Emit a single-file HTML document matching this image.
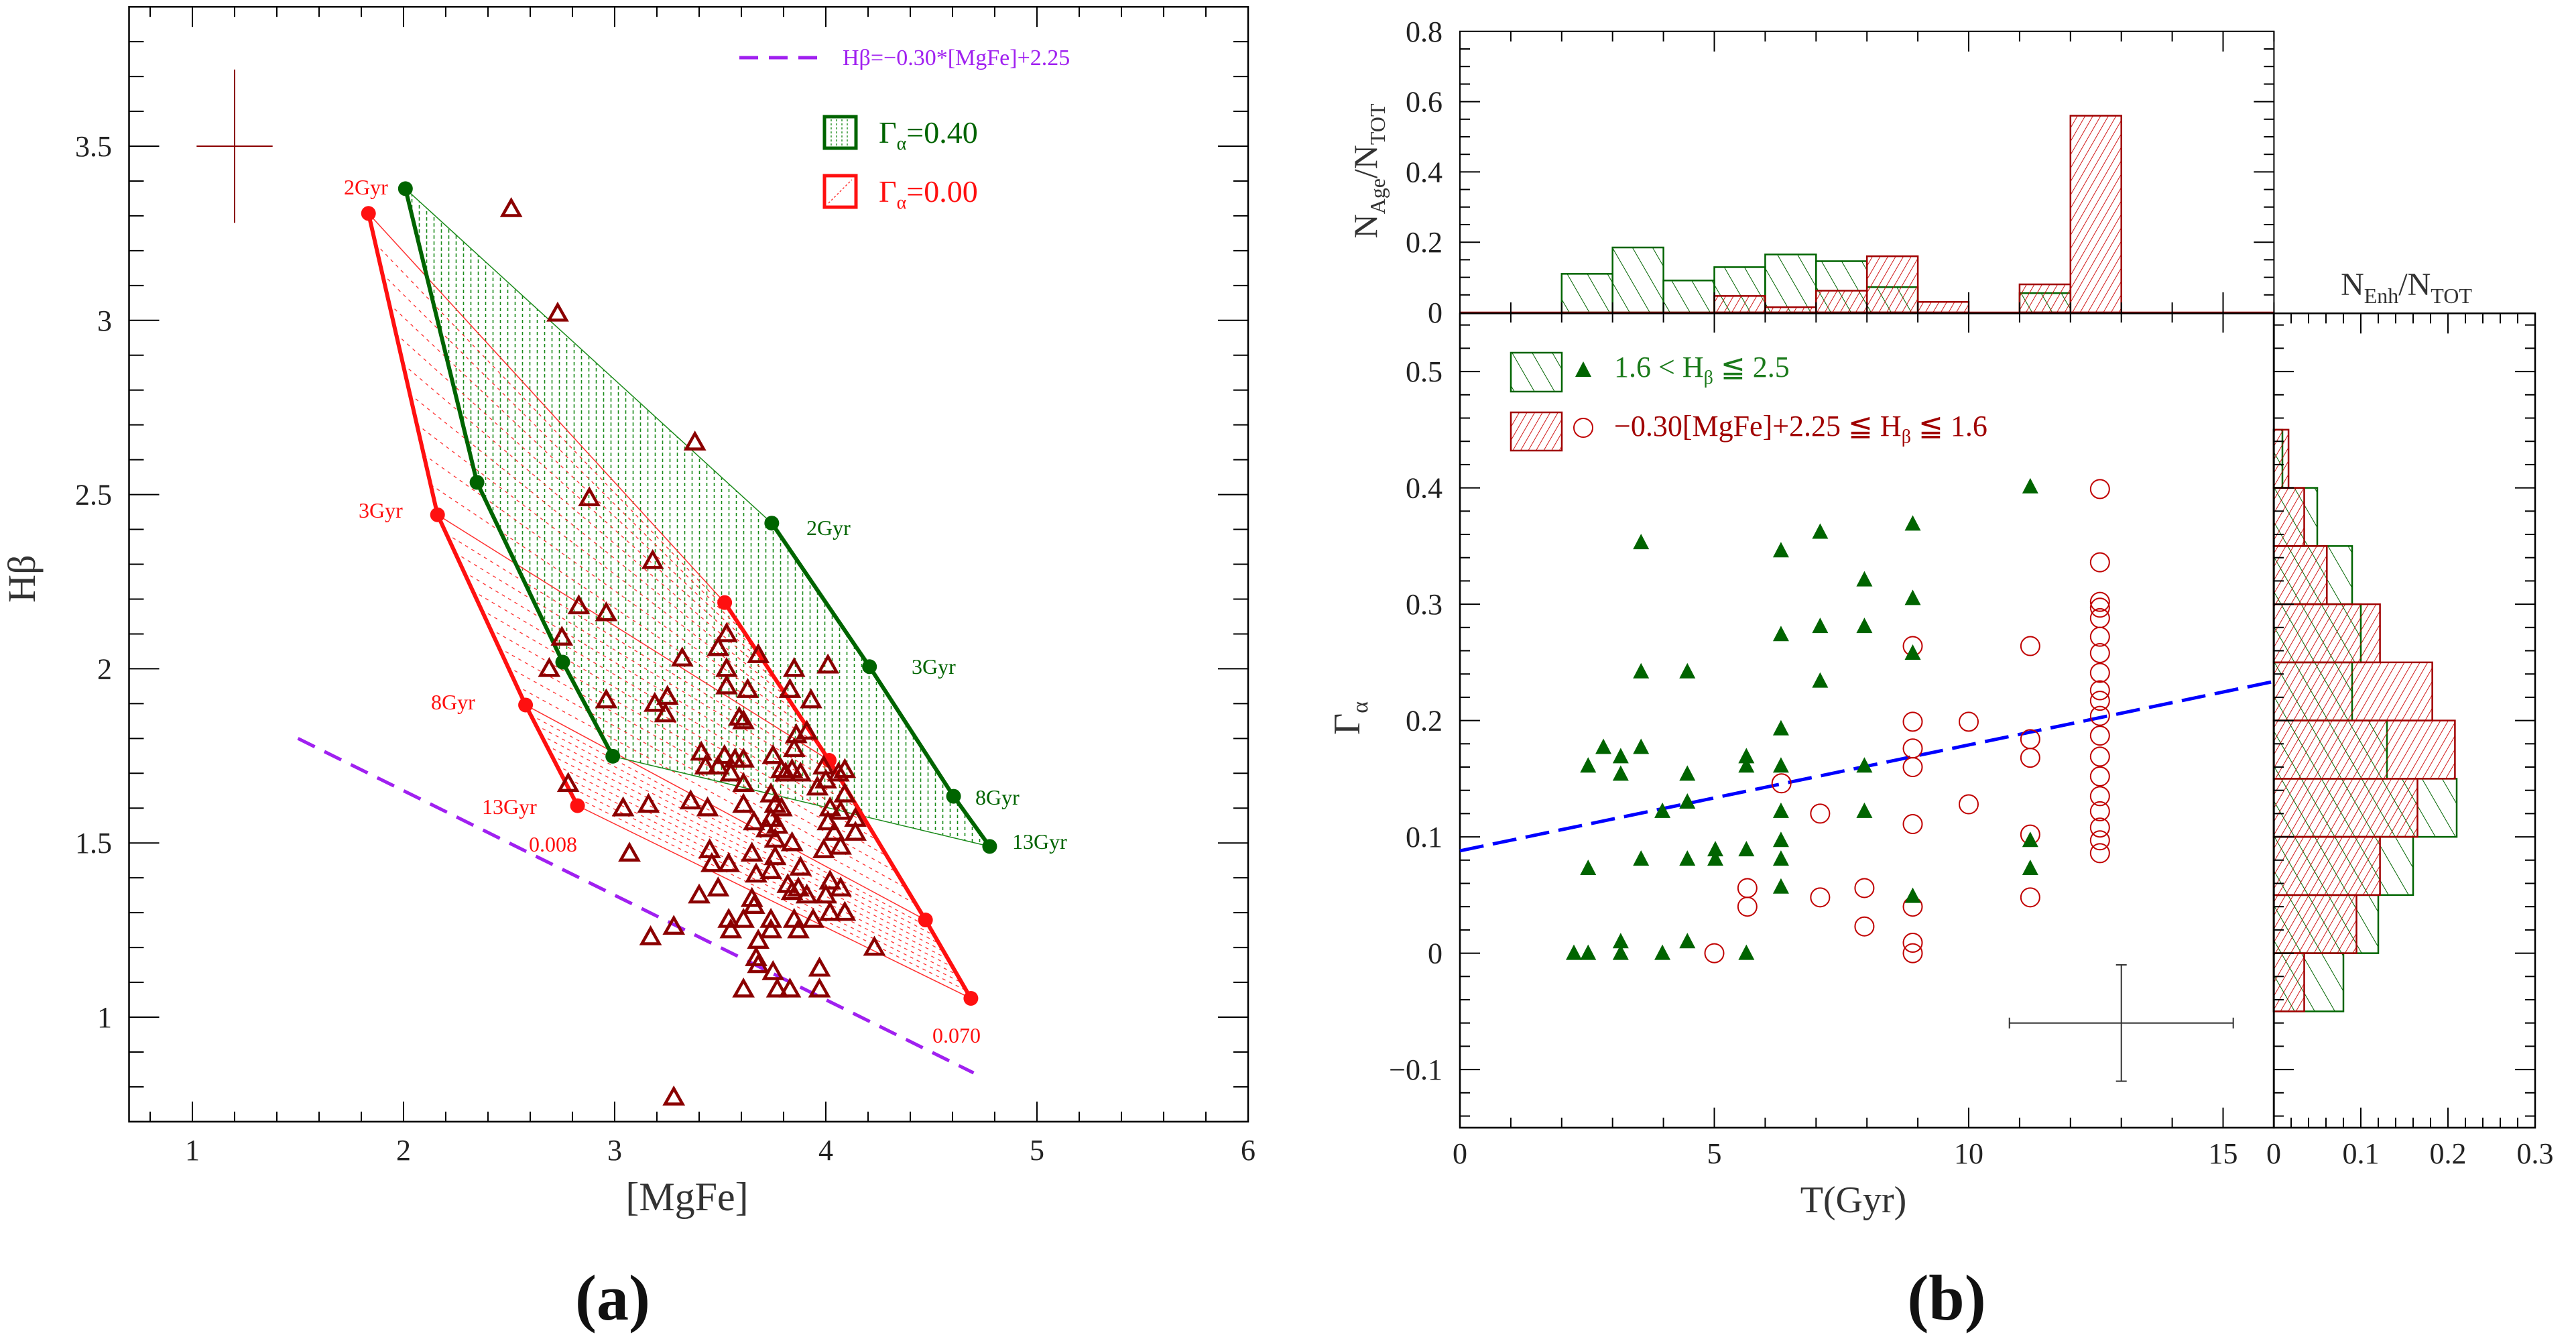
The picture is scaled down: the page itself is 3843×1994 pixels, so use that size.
<!DOCTYPE html>
<html><head><meta charset="utf-8">
<style>
html,body{margin:0;padding:0;background:#fff;}
svg{display:block;font-family:"Liberation Serif",serif;}
</style></head>
<body>
<svg id="fig" xmlns="http://www.w3.org/2000/svg" width="3843" height="1994" viewBox="0 0 3843 1994">
<defs>
<pattern id="hatchG" patternUnits="userSpaceOnUse" width="26" height="26" patternTransform="rotate(-30)"><line x1="0" y1="0" x2="0" y2="26" stroke="#006400" stroke-width="2"/></pattern>
<pattern id="hatchR" patternUnits="userSpaceOnUse" width="10" height="10" patternTransform="rotate(30)"><line x1="0" y1="0" x2="0" y2="10" stroke="#cc0000" stroke-width="1.8"/></pattern>
</defs>
<g id="root"></g>
</svg>
<script>
// ---------- data: panel (a) ----------
const trackAgesLabels = ["2Gyr","3Gyr","8Gyr","13Gyr"];
const g40LowZ_x = [2.009, 2.348, 2.754, 2.991];
const g40LowZ_y = [3.378, 2.535, 2.019, 1.749];
const g40HighZ_x = [3.744, 4.207, 4.605, 4.776];
const g40HighZ_y = [2.418, 2.006, 1.634, 1.490];
const g00LowZ_x = [1.834, 2.161, 2.578, 2.824];
const g00LowZ_y = [3.307, 2.442, 1.896, 1.607];
const g00HighZ_x = [3.521, 4.016, 4.472, 4.687];
const g00HighZ_y = [2.190, 1.737, 1.279, 1.054];
const galMgFe = [2.51,2.73,3.38,2.88,3.18,2.83,2.96,2.75,2.69,3.32,3.53,3.49,3.53,3.68,4.01,3.85,2.96,3.19,3.25,3.24,3.53,3.63,3.59,3.61,3.83,3.93,3.86,3.91,3.85,3.41,3.52,3.57,3.61,3.43,3.49,3.55,3.75,3.79,3.81,3.84,3.88,3.99,3.96,4.00,4.06,4.09,4.09,3.61,3.74,2.78,3.04,3.16,3.36,3.44,3.61,3.76,3.79,3.66,3.74,3.77,3.72,4.02,4.01,4.07,4.14,3.76,3.84,4.04,4.14,3.99,4.07,3.07,3.45,3.46,3.54,3.65,3.76,3.88,3.74,3.67,3.82,3.87,4.02,4.07,3.40,3.49,3.84,3.91,4.00,3.65,3.66,3.54,3.55,3.61,3.74,3.85,3.87,3.94,4.02,4.09,3.17,3.28,3.68,3.74,4.23,3.67,3.68,3.75,3.97,3.61,3.77,3.83,3.97,3.28];
const galHb = [3.32,3.02,2.65,2.49,2.31,2.18,2.16,2.09,2.00,2.03,2.10,2.06,2.00,2.04,2.01,2.00,1.91,1.90,1.92,1.87,1.95,1.94,1.86,1.85,1.94,1.91,1.81,1.82,1.77,1.76,1.75,1.74,1.74,1.72,1.72,1.70,1.75,1.71,1.70,1.71,1.70,1.72,1.66,1.68,1.70,1.71,1.64,1.67,1.64,1.67,1.60,1.61,1.62,1.60,1.61,1.61,1.60,1.56,1.57,1.55,1.54,1.60,1.56,1.59,1.57,1.51,1.50,1.53,1.53,1.48,1.49,1.47,1.48,1.44,1.44,1.47,1.46,1.43,1.42,1.41,1.38,1.37,1.39,1.37,1.35,1.37,1.36,1.35,1.35,1.34,1.32,1.28,1.25,1.28,1.28,1.28,1.25,1.28,1.30,1.30,1.23,1.26,1.22,1.25,1.20,1.17,1.15,1.13,1.14,1.08,1.08,1.08,1.08,0.77];
const limitSlope = -0.30, limitIntercept = 2.25, limitRange = [1.5, 4.7];
const xTicksA = [1,2,3,4,5,6];
const yTicksA = [1,1.5,2,2.5,3,3.5];

// ---------- data: panel (b) ----------
const triAge = [2.24,2.52,2.52,2.52,2.82,3.16,3.16,3.16,3.16,3.56,3.56,3.56,3.56,3.98,3.98,4.47,4.47,4.47,4.47,4.47,5.02,5.02,5.63,5.63,5.63,5.63,6.31,6.31,6.31,6.31,6.31,6.31,6.31,6.31,7.08,7.08,7.08,7.95,7.95,7.95,7.95,8.9,8.9,8.9,8.9,11.21,11.21,11.21];
const triGamma = [0,0,0.161,0.073,0.177,0.169,0.154,0.010,0,0.353,0.242,0.177,0.081,0.122,0,0.242,0.154,0.130,0.081,0.010,0.089,0.081,0.169,0.161,0.089,0,0.346,0.274,0.193,0.161,0.122,0.097,0.081,0.057,0.362,0.281,0.234,0.321,0.281,0.161,0.122,0.369,0.305,0.258,0.049,0.401,0.097,0.073];
const circAge = [5.0,5.65,5.65,6.32,7.08,7.08,7.95,7.95,8.9,8.9,8.9,8.9,8.9,8.9,8.9,8.9,10,10,11.21,11.21,11.21,11.21,11.21,12.58,12.58,12.58,12.58,12.58,12.58,12.58,12.58,12.58,12.58,12.58,12.58,12.58,12.58,12.58,12.58,12.58,12.58,12.58];
const circGamma = [0,0.056,0.040,0.146,0.120,0.048,0.056,0.023,0.264,0.199,0.176,0.160,0.111,0.040,0.009,0,0.199,0.128,0.264,0.184,0.168,0.102,0.048,0.399,0.336,0.302,0.297,0.288,0.272,0.258,0.241,0.226,0.217,0.204,0.187,0.169,0.152,0.135,0.122,0.108,0.097,0.086,0.072];
const fitIntercept = 0.088, fitSlope = 0.0091;
const ageBinStart = [2,3,4,5,6,7,8,9,10,11,12];
const ageHistGreen = [0.110,0.185,0.091,0.129,0.165,0.146,0.072,0,0,0.055,0];
const ageHistRed = [0,0,0,0.047,0.015,0.062,0.160,0.030,0,0.080,0.56];
const gamBinStart = [0.40,0.35,0.30,0.25,0.20,0.15,0.10,0.05,0.00,-0.05];
const gamHistGreen = [0.010,0.050,0.090,0.100,0.090,0.130,0.210,0.160,0.120,0.080];
const gamHistRed = [0.017,0.035,0.061,0.122,0.182,0.208,0.165,0.122,0.095,0.035];
const xTicksB = [0,5,10,15];
const yTicksB = [-0.1,0,0.1,0.2,0.3,0.4,0.5];
const yTicksTop = [0,0.2,0.4,0.6,0.8];
const xTicksSide = [0,0.1,0.2,0.3];

// ---------- scales ----------
const LX = v => 287 + (v-1)*315;
const LY = v => 1517 - (v-1)*519.6;
const RX = t => 2178 + t*75.9;
const RY = g => 1421.6 - g*1735;
const TY = n => 466 - n*524;
const SX = n => 3392 + n*1300;

const NS = "http://www.w3.org/2000/svg";
const root = document.getElementById('root');
function mk(tag, attrs, parent){
  const e = document.createElementNS(NS, tag);
  for (const k in attrs) e.setAttribute(k, attrs[k]);
  (parent||root).appendChild(e);
  return e;
}
function txt(s, x, y, size, fill, anchor, parent){
  const e = mk('text', {x:x, y:y, 'font-size':size, fill:fill||'#000', 'text-anchor':anchor||'start'}, parent);
  e.textContent = s;
  return e;
}
function fmt(v){ return (Math.round(v*10)/10).toString().replace('-', '\u2212'); }

// ticks helper: axis ticks on a frame
function tickLine(x1,y1,x2,y2,parent){
  const t = mk('line',{x1:x1,y1:y1,x2:x2,y2:y2,stroke:'#000','stroke-width':2}, parent);
  
  
}

// ================= PANEL A =================
const gA = mk('g',{});


const frameA = mk('rect',{x:LX(0.7),y:LY(3.9),width:LX(6)-LX(0.7),height:LY(0.7)-LY(3.9),fill:'none',stroke:'#000','stroke-width':2.5}, gA);


for (let i=4;i<=30;i++){ const v=i/5; const major = Math.abs(v-Math.round(v))<1e-6; const L = major?30:15;
  tickLine(LX(v),LY(0.7),LX(v),LY(0.7)-L,gA); tickLine(LX(v),LY(3.9),LX(v),LY(3.9)+L,gA); }
for (let i=7;i<=39;i++){ const v=i/10; const major = Math.abs(v*2-Math.round(v*2))<1e-6; const L = major?45:22;
  tickLine(LX(0.7),LY(v),LX(0.7)+L,LY(v),gA); tickLine(LX(6),LY(v),LX(6)-L,LY(v),gA); }
xTicksA.forEach(v=>{ const t=txt(String(v),LX(v),1730,44,'#222','middle',gA);
    });
yTicksA.forEach(v=>{ const t=txt(String(v),167,LY(v)+15,44,'#222','end',gA);
    });
const xtA = txt('[MgFe]',1025,1805,60,'#333','middle',gA);


const ytA = mk('text',{x:0,y:0,'font-size':58,fill:'#333','text-anchor':'middle',transform:'translate(52,863) rotate(-90)'},gA);
ytA.textContent = 'H\u03B2';



// model grids
function trackPt(xs, ys, s){ // s in [0,3]
  const i = Math.min(2, Math.floor(s)); const f = s - i;
  return [xs[i] + (xs[i+1]-xs[i])*f, ys[i] + (ys[i+1]-ys[i])*f];
}
// green grid polygon
const polyG = g40LowZ_x.map((x,i)=>LX(x)+','+LY(g40LowZ_y[i])).concat(g40HighZ_x.map((x,i)=>LX(x)+','+LY(g40HighZ_y[i])).reverse()).join(' ');
const cp = mk('clipPath',{id:'clipG'}, gA);
mk('polygon',{points:polyG}, cp);
const gridG = mk('g',{'clip-path':'url(#clipG)'}, gA);


for (let x = LX(1.9); x < LX(4.9); x += 11){
  const l = mk('line',{x1:x,y1:0,x2:x,y2:1700,stroke:'#1a8a1a','stroke-width':1.6,'stroke-dasharray':'5,4'}, gridG);
  
  
}
// red grid iso-lines
const gridR = mk('g',{}, gA);


for (let k=0;k<=30;k++){
  const s = k*3/30;
  const a = trackPt(g00LowZ_x,g00LowZ_y,s), b = trackPt(g00HighZ_x,g00HighZ_y,s);
  const l = mk('line',{x1:LX(a[0]),y1:LY(a[1]),x2:LX(b[0]),y2:LY(b[1]),stroke:'#ff3030','stroke-width':(k%10===0)?1.5:1.3,'stroke-dasharray':(k%10===0)?'none':'5,6'}, gridR);
  
  
}
// green edges
[[0,0],[3,3]].forEach(p=>{
  const l = mk('line',{x1:LX(g40LowZ_x[p[0]]),y1:LY(g40LowZ_y[p[0]]),x2:LX(g40HighZ_x[p[1]]),y2:LY(g40HighZ_y[p[1]]),stroke:'#1a8a1a','stroke-width':1.5}, gA);
  
  
});
function track(xs, ys, col, name){
  const pl = mk('polyline',{points:xs.map((x,i)=>LX(x)+','+LY(ys[i])).join(' '),fill:'none',stroke:col,'stroke-width':6}, gA);
  
  
  xs.forEach((x,i)=>{ const c = mk('circle',{cx:LX(x),cy:LY(ys[i]),r:11,fill:col}, gA);
    
     });
}
track(g00LowZ_x,g00LowZ_y,'#ff1010','track-gamma-000-z0008');
track(g00HighZ_x,g00HighZ_y,'#ff1010','track-gamma-000-z0070');
track(g40LowZ_x,g40LowZ_y,'#006400','track-gamma-040-z0008');
track(g40HighZ_x,g40HighZ_y,'#006400','track-gamma-040-z0070');
// track labels
const redLab = [[513,290],[535,772],[643,1058],[719,1214]];
redLab.forEach((p,i)=>{ const t=txt(trackAgesLabels[i],p[0],p[1],32,'#ff1010','start',gA);
    });
const grnLab = [[1203,798],[1360,1005],[1455,1200],[1510,1266]];
grnLab.forEach((p,i)=>{ const t=txt(trackAgesLabels[i],p[0],p[1],32,'#006400','start',gA);
    });
const z1 = txt('0.008',789,1270,32,'#ff1010','start',gA);


const z2 = txt('0.070',1391,1555,32,'#ff1010','start',gA);


// limit line
const lim = mk('line',{x1:LX(limitRange[0]),y1:LY(limitSlope*limitRange[0]+limitIntercept),x2:LX(limitRange[1]),y2:LY(limitSlope*limitRange[1]+limitIntercept),stroke:'#a020f0','stroke-width':5,'stroke-dasharray':'28,16'}, gA);


// galaxies
galMgFe.forEach((x,i)=>{
  const cx=LX(x), cy=LY(galHb[i]);
  const t = mk('polygon',{points:`${cx-13},${cy+10} ${cx+13},${cy+10} ${cx},${cy-13}`,fill:'none',stroke:'#8b0000','stroke-width':4.5,'stroke-linejoin':'miter'}, gA);
  
  
});
// error bar
const ebA = mk('path',{d:`M${LX(1.2)},${LY(3.28)}V${LY(3.72)}M${LX(1.02)},${LY(3.5)}H${LX(1.38)}`,stroke:'#8b0000','stroke-width':2,fill:'none'}, gA);


// legend A
const lgA = mk('g',{}, gA);


const ld = mk('line',{x1:1103,y1:86,x2:1225,y2:86,stroke:'#a020f0','stroke-width':5,'stroke-dasharray':'28,16'}, lgA);


const lt = txt('H\u03B2=\u22120.30*[MgFe]+2.25',1257,97,34,'#a020f0','start',lgA);


const lb1 = mk('rect',{x:1230,y:174,width:47,height:47,fill:'none',stroke:'#006400','stroke-width':5}, lgA);


for (let x=1240;x<1272;x+=8){ const l=mk('line',{x1:x,y1:178,x2:x,y2:218,stroke:'#1a8a1a','stroke-width':1.4,'stroke-dasharray':'3,3'},lgA);
    }
const lb1t = mk('text',{x:1311,y:213,'font-size':46,fill:'#006400'}, lgA);
lb1t.innerHTML = '\u0393<tspan font-size="28" dy="10">\u03B1</tspan><tspan dy="-10">=0.40</tspan>';


const lb2 = mk('rect',{x:1230,y:262,width:47,height:47,fill:'none',stroke:'#ff1010','stroke-width':5}, lgA);


const lb2d = mk('line',{x1:1236,y1:303,x2:1271,y2:268,stroke:'#ff3030','stroke-width':1.4,'stroke-dasharray':'3,3'}, lgA);


const lb2t = mk('text',{x:1311,y:301,'font-size':46,fill:'#ff1010'}, lgA);
lb2t.innerHTML = '\u0393<tspan font-size="28" dy="10">\u03B1</tspan><tspan dy="-10">=0.00</tspan>';


const capA = mk('text',{x:914,y:1968,'font-size':96,'font-weight':'bold','text-anchor':'middle',fill:'#111'}, gA);
capA.textContent = '(a)';



// ================= PANEL B =================
const gB = mk('g',{});


// top histogram
const topG = mk('g',{}, gB);


function stepPathH(bins, vals, w){ // vertical bars path
  let d=''; bins.forEach((b,i)=>{ if(vals[i]>0){ d += `M${RX(b)},${TY(0)}V${TY(vals[i])}H${RX(b+w)}V${TY(0)}Z`; } }); return d;
}
ageBinStart.forEach((b,i)=>{ if(ageHistGreen[i]>0){
  const r = mk('rect',{x:RX(b),y:TY(ageHistGreen[i]),width:RX(b+1)-RX(b),height:TY(0)-TY(ageHistGreen[i]),fill:'url(#hatchG)',stroke:'#006400','stroke-width':2.5}, topG);
  
   }});
ageBinStart.forEach((b,i)=>{ if(ageHistRed[i]>0){
  const r = mk('rect',{x:RX(b),y:TY(ageHistRed[i]),width:RX(b+1)-RX(b),height:TY(0)-TY(ageHistRed[i]),fill:'url(#hatchR)',stroke:'#a00000','stroke-width':2.5}, topG);
  
   }});
const frT = mk('path',{d:`M${RX(0)},${TY(0)}V${TY(0.8)}H${RX(16)}V${TY(0)}`,fill:'none',stroke:'#000','stroke-width':2}, gB);


const base = mk('line',{x1:RX(0),y1:TY(0),x2:RX(16),y2:TY(0),stroke:'#a00000','stroke-width':2.5}, gB);


for (let i=0;i<=16;i++){ const L=(i%5===0)?30:15; tickLine(RX(i),TY(0)-L,RX(i),TY(0)+L,gB); tickLine(RX(i),TY(0.8),RX(i),TY(0.8)+L,gB); }
for (let i=1;i<16;i++){ const v=i*0.05; const major=(i%4===0); const L=major?30:15;
  tickLine(RX(0),TY(v),RX(0)+L,TY(v),gB); tickLine(RX(16),TY(v),RX(16)-L,TY(v),gB); }
yTicksTop.forEach(v=>{ const t=txt(String(v),2152,TY(v)+15,44,'#222','end',gB);
    });
const ytT = mk('text',{x:0,y:0,'font-size':50,fill:'#333','text-anchor':'middle',transform:'translate(2054,255) rotate(-90)'}, gB);
ytT.innerHTML = 'N<tspan font-size="32" dy="12">Age</tspan><tspan dy="-12">/N</tspan><tspan font-size="32" dy="12">TOT</tspan>';



// side histogram
const sideG = mk('g',{}, gB);


gamBinStart.forEach((b,i)=>{
  const r = mk('rect',{x:SX(0),y:RY(b+0.05),width:SX(gamHistGreen[i])-SX(0),height:RY(b)-RY(b+0.05),fill:'url(#hatchG)',stroke:'#006400','stroke-width':2.5}, sideG);
  
  
});
gamBinStart.forEach((b,i)=>{
  const r = mk('rect',{x:SX(0),y:RY(b+0.05),width:SX(gamHistRed[i])-SX(0),height:RY(b)-RY(b+0.05),fill:'url(#hatchR)',stroke:'#a00000','stroke-width':2.5}, sideG);
  
  
});
const frS = mk('rect',{x:SX(0),y:RY(0.55),width:SX(0.3)-SX(0),height:RY(-0.15)-RY(0.55),fill:'none',stroke:'#000','stroke-width':2.5}, gB);


for (let i=1;i<15;i++){ const v=i*0.02; const major=(i%5===0); const L=major?30:15;
  tickLine(SX(v),RY(-0.15),SX(v),RY(-0.15)-L,gB); tickLine(SX(v),RY(0.55),SX(v),RY(0.55)+L,gB); }
for (let i=-7;i<=27;i++){ const v=i*0.02; const major=(i%5===0); const L=major?30:15;
  tickLine(SX(0.3),RY(v),SX(0.3)-L,RY(v),gB); tickLine(SX(0),RY(v),SX(0)+L,RY(v),gB); }
xTicksSide.forEach(v=>{ const t=txt(String(v),SX(v),1735,44,'#222','middle',gB);
    });
const stS = mk('text',{x:3590,y:440,'font-size':48,fill:'#333','text-anchor':'middle'}, gB);
stS.innerHTML = 'N<tspan font-size="32" dy="12">Enh</tspan><tspan dy="-12">/N</tspan><tspan font-size="32" dy="12">TOT</tspan>';



// main panel
const frM = mk('rect',{x:RX(0),y:RY(0.55),width:RX(16)-RX(0),height:RY(-0.15)-RY(0.55),fill:'none',stroke:'#000','stroke-width':2.5}, gB);


for (let i=1;i<16;i++){ const L=(i%5===0)?30:15; tickLine(RX(i),RY(-0.15),RX(i),RY(-0.15)-L,gB); }
for (let i=-7;i<=27;i++){ const v=i*0.02; const major=(i%5===0); const L=major?30:15;
  tickLine(RX(0),RY(v),RX(0)+L,RY(v),gB); }
xTicksB.forEach(v=>{ const t=txt(String(v),RX(v),1735,44,'#222','middle',gB);
    });
yTicksB.forEach(v=>{ const t=txt(fmt(v),2152,RY(v)+15,44,'#222','end',gB);
    });
const xtB = txt('T(Gyr)',2765,1808,56,'#333','middle',gB);


const ytB = mk('text',{x:0,y:0,'font-size':56,fill:'#333','text-anchor':'middle',transform:'translate(2028,1071) rotate(-90)'}, gB);
ytB.innerHTML = '\u0393<tspan font-size="34" dy="12">\u03B1</tspan>';


// fit line
const fit = mk('line',{x1:RX(0),y1:RY(fitIntercept),x2:RX(16),y2:RY(fitIntercept+fitSlope*16),stroke:'#0000ff','stroke-width':5,'stroke-dasharray':'36,14'}, gB);


// circles
circAge.forEach((t,i)=>{
  const c = mk('circle',{cx:RX(t),cy:RY(circGamma[i]),r:14,fill:'none',stroke:'#c00000','stroke-width':2}, gB);
  
  
});
// triangles
triAge.forEach((t,i)=>{
  const cx=RX(t), cy=RY(triGamma[i]);
  const p = mk('polygon',{points:`${cx-12},${cy+10} ${cx+12},${cy+10} ${cx},${cy-13}`,fill:'#006400'}, gB);
  
  
});
// error bar b
const ebB = mk('path',{d:`M${RX(10.8)},${RY(-0.06)}H${RX(15.2)}M${RX(13)},${RY(-0.01)}V${RY(-0.11)}M${RX(10.8)},${RY(-0.06)-8}v16M${RX(15.2)},${RY(-0.06)-8}v16M${RX(13)-8},${RY(-0.01)}h16M${RX(13)-8},${RY(-0.11)}h16`,stroke:'#333','stroke-width':2,fill:'none'}, gB);


// legend b
const lgB = mk('g',{}, gB);


const s1 = mk('rect',{x:2254,y:526,width:76,height:58,fill:'url(#hatchG)',stroke:'#006400','stroke-width':2.5}, lgB);


const s1m = mk('polygon',{points:'2350,562 2374,562 2362,539',fill:'#006400'}, lgB);


const s1t = mk('text',{x:2408,y:562,'font-size':44,fill:'#1a7a1a'}, lgB);
s1t.innerHTML = '1.6 &lt; H<tspan font-size="28" dy="10">\u03B2</tspan><tspan dy="-10"> \u2266 2.5</tspan>';


const s2 = mk('rect',{x:2254,y:615,width:76,height:57,fill:'url(#hatchR)',stroke:'#a00000','stroke-width':2.5}, lgB);


const s2m = mk('circle',{cx:2362,cy:638,r:14,fill:'none',stroke:'#c00000','stroke-width':2}, lgB);


const s2t = mk('text',{x:2408,y:650,'font-size':44,fill:'#a00000'}, lgB);
s2t.innerHTML = '\u22120.30[MgFe]+2.25 \u2266 H<tspan font-size="28" dy="10">\u03B2</tspan><tspan dy="-10"> \u2266 1.6</tspan>';


const capB = mk('text',{x:2904,y:1968,'font-size':96,'font-weight':'bold','text-anchor':'middle',fill:'#111'}, gB);
capB.textContent = '(b)';


</script>
</body></html>
